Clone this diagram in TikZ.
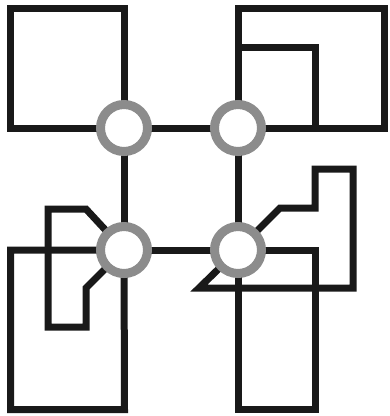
\documentclass[tikz,border=0pt]{standalone}
\begin{document}
\begin{tikzpicture}[x=1pt,y=-1pt,
  wire/.style={draw=black!90,line width=7pt,line join=miter},
  hub/.style={circle,draw=black!45,fill=white,line width=9pt,minimum size=47pt,inner sep=0pt,outer sep=0pt}]
\useasboundingbox (0,0) rectangle (390,416);
\coordinate (a) at (124,128);
\coordinate (b) at (238,128);
\coordinate (c) at (124,250);
\coordinate (d) at (238,250);
% top-left square
\draw[wire] (a) -- (124,8.5) -- (10.5,8.5) -- (10.5,128) -- cycle;
% top-right rectangles
\draw[wire] (b) -- (238,8.5) -- (384,8.5) -- (384,128) -- cycle;
\draw[wire] (238,47) -- (315,47) -- (315,128);
% grid
\draw[wire] (a) -- (b) -- (d) -- (c) -- cycle;
% bottom-left
\draw[wire] (c) -- (124.5,409.5) -- (10.5,409.5) -- (10.5,250) -- cycle;
\draw[wire] (48,209) -- (86,209) -- (c) -- (86,288) -- (86,327) -- (48,327) -- cycle;
% bottom-right
\draw[wire] (d) -- (315,250) -- (315,409.5) -- (238,409.5) -- cycle;
\draw[wire] (199,288) -- (353,288) -- (353,169) -- (315,169) -- (315,208) -- (280,208) -- (d) -- cycle;
% hubs
\node[hub] (A) at (a) {};
\node[hub] (B) at (b) {};
\node[hub] (C) at (c) {};
\node[hub] (D) at (d) {};
\end{tikzpicture}
\end{document}
